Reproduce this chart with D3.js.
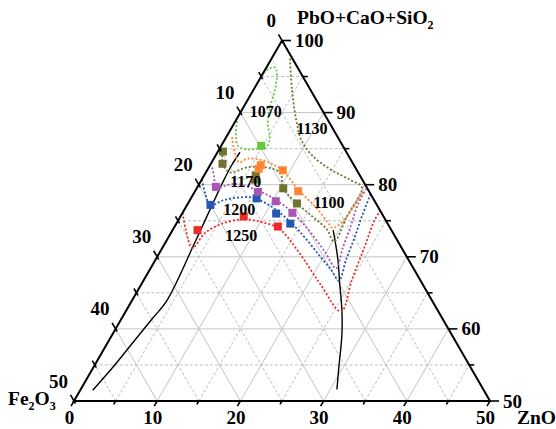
<!DOCTYPE html>
<html>
<head>
<meta charset="utf-8">
<script src="https://cdn.jsdelivr.net/npm/d3@7"></script>
<style>
  body { margin: 0; background: #fff; }
  svg text { font-family: "Times New Roman", "Liberation Serif", serif; font-weight: bold; fill: #000; }
</style>
</head>
<body>
<div class="graphContainer"></div>
<script>
// every point is [ZnO, Fe2O3]; PbO+CaO+SiO2 = 100 - ZnO - Fe2O3
var znoTicks = [0, 10, 20, 30, 40, 50],
    feTicks  = [0, 10, 20, 30, 40, 50],
    topTicks = [50, 60, 70, 80, 90, 100];

// isotherms (dotted)
var green1070  = [[0.2,11.0],[1.0,12.1],[2.0,12.6],[3.2,11.9],[4.6,10.4],[5.5,9.3],[5.3,8.2],[4.1,7.5],[3.2,6.1],[2.5,4.1],[1.4,2.7],[0.9,2.8],[0.3,3.7],[0,4.5]];
var orange1100 = [[0.7,12.7],[2.2,13.5],[3.3,13.6],[4.0,12.4],[5.5,11.0],[7.1,9.9],[9.2,8.9],[12.3,8.4],[15.6,7.5],[18.1,7.1],[19.1,6.9],[19.8,5.4],[20.1,3.7],[20.2,2.2],[20.2,0.5]];
var olive1130  = [[2.2,0.3],[4.6,2.2],[7.2,3.8],[9.4,4.6],[12.1,4.2],[15.0,3.0],[17.8,1.5],[19.8,0.6],[20.0,4.4],[20.2,7.7],[18.5,7.7],[16.0,8.5],[13.1,9.5],[10.4,10.1],[9.0,9.4],[7.0,10.6],[4.6,13.0],[2.9,15.4],[1.4,15.7],[0.6,14.8]];
var purple1170 = [[0.4,17.2],[1.3,17.6],[2.2,18.1],[4.3,15.6],[7.5,13.3],[10.3,11.8],[13.1,10.7],[16.6,9.9],[19.8,9.5],[22.3,9.3],[21.7,7.1],[21.1,4.5],[20.5,2.3],[20.4,0.2]];
var blue1200   = [[0,19.3],[1.3,19.8],[2.8,20.1],[3.9,18.3],[5.5,16.3],[7.4,14.4],[10.0,12.9],[13.5,11.6],[16.5,10.9],[19.5,10.4],[21.8,10.0],[23.5,9.8],[22.9,7.5],[22.4,5.0],[21.8,2.6],[21.3,0]];
var red1250    = [[0,23.9],[1.6,24.7],[3.6,25.2],[4.1,22.6],[5.5,19.9],[7.8,17.0],[10.2,15.0],[12.7,13.4],[16.3,12.7],[21.4,12.3],[25.9,11.7],[25.0,8.2],[24.2,4.2],[23.6,1.5],[23.6,0]];

// boundary lines (solid black)
var leftBoundary  = [[1.5,47.0],[2.4,42.6],[3.1,38.4],[3.7,34.9],[4.2,31.8],[3.5,24.2],[2.7,16.8],[2.6,14.7],[2.7,12.8]];
var rightBoundary = [[30.8,17.6],[29.4,15.7],[27.6,13.2],[25.9,11.5],[23.9,10.0],[21.8,8.4],[19.3,7.0]];

// measured compositions (squares)
var greenPts  = [[4.8,9.8]];
var orangePts = [[6.1,11.2],[6.1,11.7],[9.1,8.9],[12.4,8.5]];
var olivePts  = [[0.6,14.8],[1.4,15.7],[6.2,12.5],[6.4,12.9],[10.4,10.1],[13.1,9.5]];
var purplePts = [[2.2,18.1],[7.6,13.4],[10.4,11.9],[13.2,10.7]];
var bluePts   = [[7.9,14.0],[2.8,20.0],[11.3,12.7],[13.7,11.7]];
var redPts    = [[3.0,23.3],[7.6,16.8],[12.4,13.4]];

var isoLabels   = ["1070", "1130", "1100", "1170", "1200", "1250"];
var isoLabelPos = [[3.0,6.9],[9.7,2.5],[16.9,5.6],[5.4,14.1],[6.6,16.9],[8.6,18.4]];

var w = 556, h = 429;

var base = d3.scaleLinear().domain([0, 50]).range([74, 490]);
var yA   = d3.scaleLinear().domain([50, 100]).range([401, 40.5]);

// ternary -> pixel
function pt(d) {
  var a = 100 - d[0] - d[1];
  return [base(d[0] + (a - 50) / 2), yA(a)];
}

var svg = d3.select(".graphContainer")
  .append("svg")
  .attr("width", w)
  .attr("height", h);

var line = d3.line()
  .x(function (d) { return pt(d)[0]; })
  .y(function (d) { return pt(d)[1]; });

// grid
var grid = svg.append("g");
d3.range(5, 50, 5).forEach(function (k) {
  var segs = [
    [[0, 50 - k], [50 - k, 0]],   // PbO+CaO+SiO2 = 50+k
    [[k, 50 - k], [k, 0]],        // ZnO = k
    [[50 - k, k], [0, k]]         // Fe2O3 = k
  ];
  segs.forEach(function (s) {
    grid.append("path")
      .attr("d", line(s))
      .attr("fill", "none")
      .attr("stroke", k % 10 === 0 ? "#c4c4c4" : "#b4b4b4")
      .attr("stroke-width", k % 10 === 0 ? 1 : 0.9)
      .attr("stroke-dasharray", k % 10 === 0 ? null : "3,2");
  });
});

// black boundaries
var smooth = d3.line()
  .x(function (d) { return pt(d)[0]; })
  .y(function (d) { return pt(d)[1]; })
  .curve(d3.curveCatmullRom.alpha(0.5));

[leftBoundary, rightBoundary].forEach(function (b) {
  svg.append("path")
    .attr("d", smooth(b))
    .attr("fill", "none")
    .attr("stroke", "#000")
    .attr("stroke-width", 1.4);
});

// isotherms
var series = [
  { line: red1250,    pts: redPts,    color: "#ee2b2b" },
  { line: blue1200,   pts: bluePts,   color: "#2457b0" },
  { line: purple1170, pts: purplePts, color: "#a855b5" },
  { line: olive1130,  pts: olivePts,  color: "#6f7432" },
  { line: orange1100, pts: orangePts, color: "#ff8533" },
  { line: green1070,  pts: greenPts,  color: "#66c93a" }
];

series.forEach(function (s) {
  svg.append("path")
    .attr("d", smooth(s.line))
    .attr("fill", "none")
    .attr("stroke", s.color)
    .attr("stroke-width", 1.8)
    .attr("stroke-dasharray", "2,2");
});

series.forEach(function (s) {
  svg.selectAll(null)
    .data(s.pts)
    .enter()
      .append("rect")
        .attr("x", function (d) { return pt(d)[0] - 4; })
        .attr("y", function (d) { return pt(d)[1] - 4; })
        .attr("width", 8)
        .attr("height", 8)
        .attr("fill", s.color);
});

// isotherm labels
svg.selectAll(null)
  .data(isoLabels)
  .enter()
    .append("text")
      .attr("x", function (d, i) { return pt(isoLabelPos[i])[0]; })
      .attr("y", function (d, i) { return pt(isoLabelPos[i])[1] + 5.5; })
      .attr("text-anchor", "middle")
      .style("font-size", "16px")
      .text(function (d) { return d; });

// triangle frame
var corners = [[0, 0], [50, 0], [0, 50], [0, 0]];
svg.append("path")
  .attr("d", line(corners))
  .attr("fill", "none")
  .attr("stroke", "#000")
  .attr("stroke-width", 2)
  .attr("stroke-linejoin", "miter");

// ticks
var axes = svg.append("g").attr("stroke", "#000").attr("stroke-width", 1.6);
d3.range(0, 55, 5).forEach(function (k) {
  var major = k % 10 === 0;
  // right: PbO+CaO+SiO2
  var p = pt([50 - k, 0]);
  axes.append("line")
    .attr("x1", p[0]).attr("y1", p[1])
    .attr("x2", p[0] + (major ? 9 : 5)).attr("y2", p[1]);
  // left: Fe2O3
  var q = pt([0, k]), lo = major ? 7 : 5;
  axes.append("line")
    .attr("x1", q[0] + 0.5 * 3).attr("y1", q[1] + 0.866 * 3)
    .attr("x2", q[0] - 0.5 * lo).attr("y2", q[1] - 0.866 * lo);
  // bottom: ZnO
  var r = pt([k, 50 - k]), lb = major ? 6 : 4;
  axes.append("line")
    .attr("x1", r[0]).attr("y1", r[1])
    .attr("x2", r[0] - 0.5 * lb).attr("y2", r[1] + 0.866 * lb);
});

svg.selectAll(null)
  .data(topTicks)
  .enter()
    .append("text")
      .attr("x", function (d) { return pt([100 - d, 0])[0] + 13; })
      .attr("y", function (d) { return pt([100 - d, 0])[1] + 6.5; })
      .style("font-size", "19px")
      .text(function (d) { return d; });

svg.selectAll(null)
  .data(feTicks)
  .enter()
    .append("text")
      .attr("x", function (d) { return pt([0, d])[0] - 6; })
      .attr("y", function (d) { return pt([0, d])[1] - 13.5; })
      .attr("text-anchor", "end")
      .style("font-size", "19px")
      .text(function (d) { return d; });

svg.selectAll(null)
  .data(znoTicks)
  .enter()
    .append("text")
      .attr("x", function (d) { return pt([d, 50 - d])[0] - 4.5; })
      .attr("y", function (d) { return pt([d, 50 - d])[1] + 23; })
      .attr("text-anchor", "middle")
      .style("font-size", "19px")
      .text(function (d) { return d; });

// axis titles
function chem(x, y, parts) {
  var t = svg.append("text").attr("x", x).attr("y", y).style("font-size", "19.5px");
  parts.forEach(function (p) {
    var s = t.append("tspan").text(p[0]);
    if (p[1]) s.style("font-size", "12px").attr("dy", 5);
    else s.attr("dy", p[2] || 0);
  });
  return t;
}
chem(297, 24, [["PbO+CaO+SiO"], ["2", true]]);
chem(8, 405, [["Fe"], ["2", true], ["O", false, -5], ["3", true]]);
chem(517, 424, [["ZnO"]]);
</script>
</body>
</html>
